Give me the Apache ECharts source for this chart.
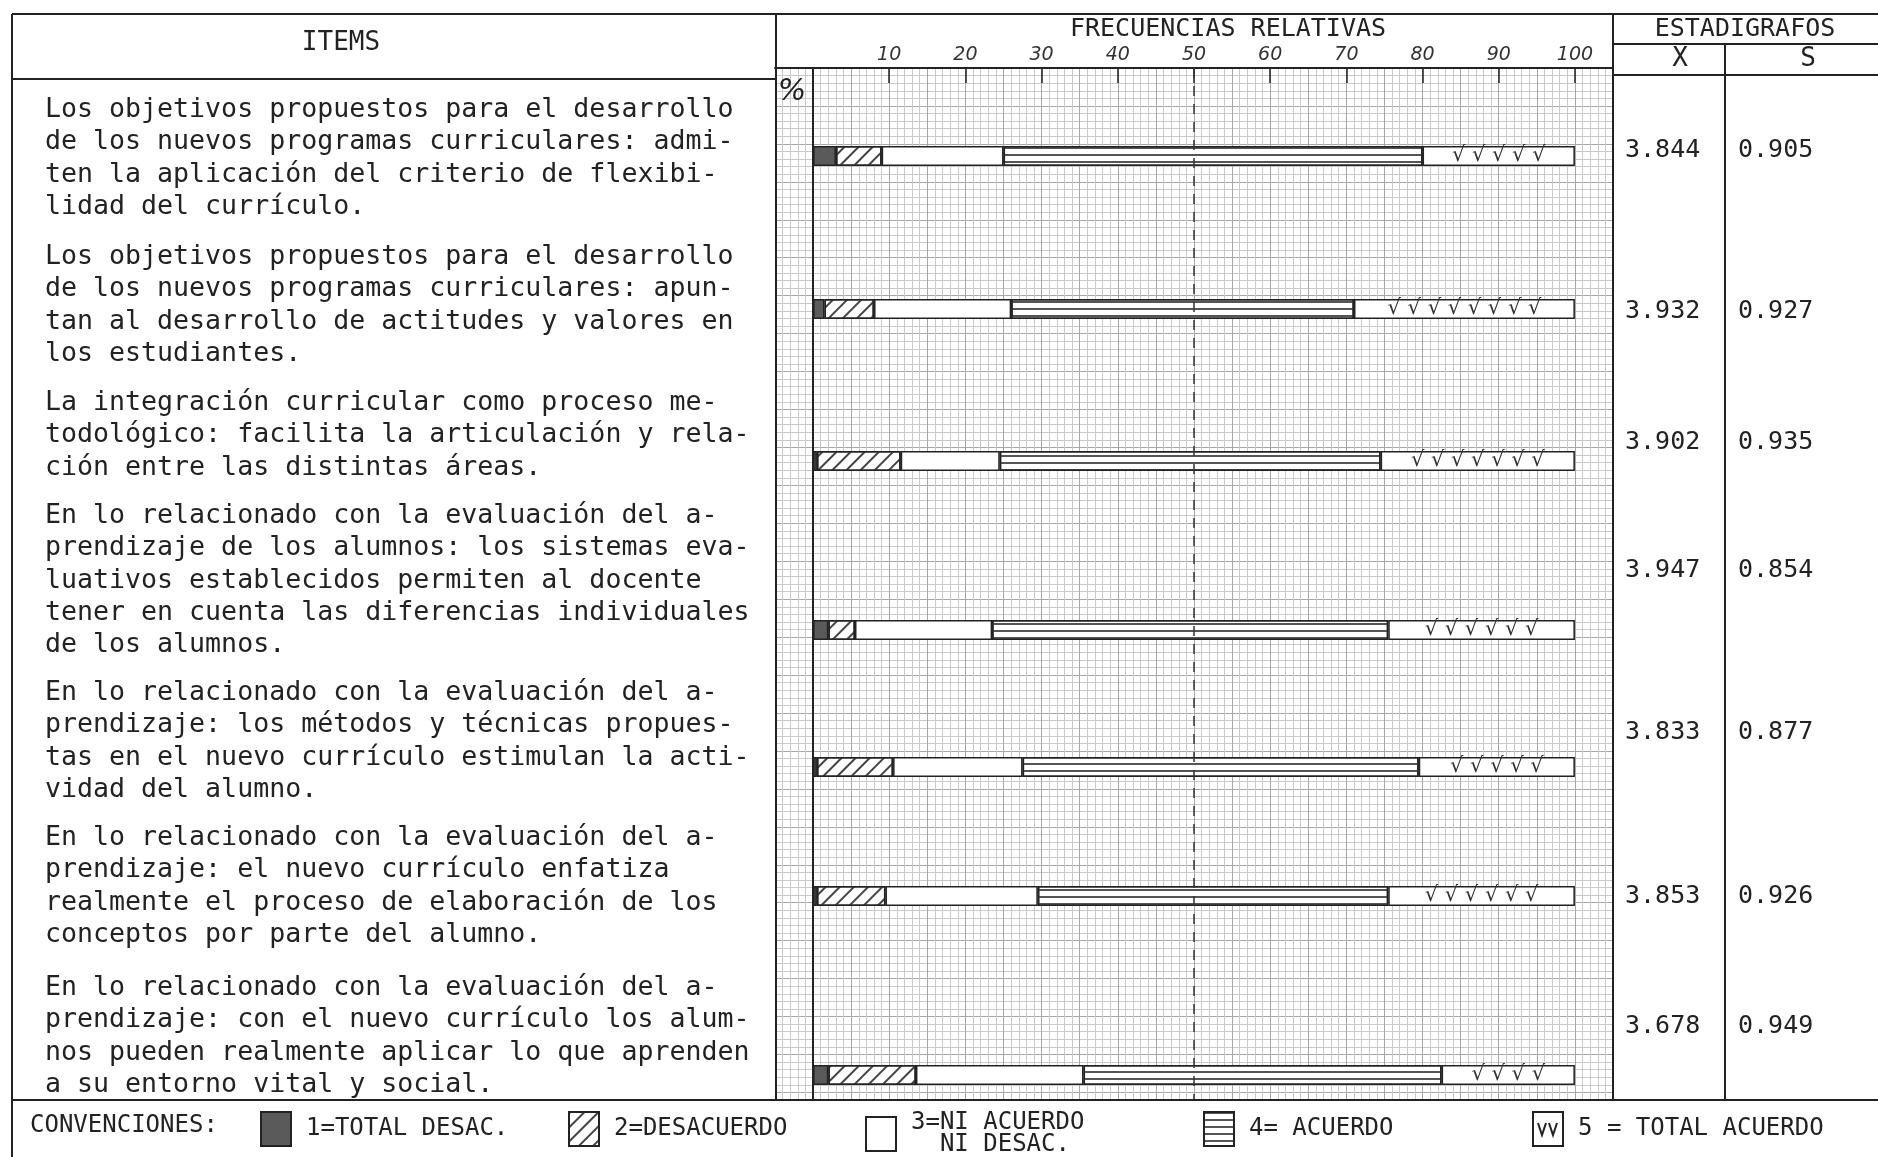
<!DOCTYPE html>
<html><head><meta charset="utf-8">
<script src="https://cdn.jsdelivr.net/npm/echarts@6/dist/echarts.min.js"></script>
<style>html,body{margin:0;padding:0;background:#fff}#c{width:1878px;height:1157px}</style>
</head><body><div id="c"></div>
<script>
// ---------- DATA ----------
const items = [
  "Los objetivos propuestos para el desarrollo\nde los nuevos programas curriculares: admi-\nten la aplicación del criterio de flexibi-\nlidad del currículo.",
  "Los objetivos propuestos para el desarrollo\nde los nuevos programas curriculares: apun-\ntan al desarrollo de actitudes y valores en\nlos estudiantes.",
  "La integración curricular como proceso me-\ntodológico: facilita la articulación y rela-\nción entre las distintas áreas.",
  "En lo relacionado con la evaluación del a-\nprendizaje de los alumnos: los sistemas eva-\nluativos establecidos permiten al docente\ntener en cuenta las diferencias individuales\nde los alumnos.",
  "En lo relacionado con la evaluación del a-\nprendizaje: los métodos y técnicas propues-\ntas en el nuevo currículo estimulan la acti-\nvidad del alumno.",
  "En lo relacionado con la evaluación del a-\nprendizaje: el nuevo currículo enfatiza\nrealmente el proceso de elaboración de los\nconceptos por parte del alumno.",
  "En lo relacionado con la evaluación del a-\nprendizaje: con el nuevo currículo los alum-\nnos pueden realmente aplicar lo que aprenden\na su entorno vital y social."
];
const levelNames = ["1=TOTAL DESAC.", "2=DESACUERDO", "3=NI ACUERDO\n  NI DESAC.", "4= ACUERDO", "5 = TOTAL ACUERDO"];
const totalDesac   = [3, 1.5, 0.5, 2, 0.5, 0.5, 2];
const desacuerdo   = [6, 6.5, 11, 3.5, 10, 9, 11.5];
const niAcuerdo    = [16, 18, 13, 18, 17, 20, 22];
const acuerdo      = [55, 45, 50, 52, 52, 46, 47];
const totalAcuerdo = [20, 29, 25.5, 24.5, 20.5, 24.5, 17.5];
const meanX = [3.844, 3.932, 3.902, 3.947, 3.833, 3.853, 3.678];
const sdS   = [0.905, 0.927, 0.935, 0.854, 0.877, 0.926, 0.949];
const tickLabels = ["10","20","30","40","50","60","70","80","90","100"];

// ---------- LAYOUT ----------
const barCenterY = [156, 309, 461, 630, 767, 896, 1075];
const textTopY   = [94, 241, 387, 500, 677, 822, 972];
const statY      = [150, 311, 442, 570, 732, 896, 1026];
const legendLeft = [255, 563, 860, 1198, 1527];
const MONO = "DejaVu Sans Mono";
const INK = "#222";

const levels = [totalDesac, desacuerdo, niAcuerdo, acuerdo, totalAcuerdo];
const border = {borderColor: INK, borderWidth: 1.5};
const levelStyles = [
  Object.assign({color: "#5a5a5a"}, border),
  Object.assign({color: "#fff", decal: {symbol: "rect", symbolSize: 1, color: "#444", dashArrayX: [1, 0], dashArrayY: [2, 8], rotation: -Math.PI / 4}}, border),
  Object.assign({color: "#fff"}, border),
  Object.assign({color: "#fff", decal: {symbol: "rect", symbolSize: 1, color: "#555", dashArrayX: [1, 0], dashArrayY: [1.5, 5], rotation: 0}}, border),
  Object.assign({color: "#fff"}, border)
];

const grids = [
  {left: 775, right: 265, top: 68, bottom: 57},
  {left: 813, right: 303, top: 68, height: 1}
];
const xAxes = [
  {gridIndex: 0, type: "value", min: -5, max: 105, interval: 5, position: "top",
   axisLine: {show: true, onZero: false, lineStyle: {color: INK, width: 2}},
   axisTick: {show: false}, axisLabel: {show: false},
   minorTick: {show: false, splitNumber: 5},
   splitLine: {show: true, lineStyle: {color: "#a8a8a8", width: 1}},
   minorSplitLine: {show: true, lineStyle: {color: "#cacaca", width: 1}}},
  {gridIndex: 1, type: "value", min: 0, max: 100, interval: 10, position: "top",
   axisLine: {show: false},
   axisTick: {show: true, inside: true, length: 14, lineStyle: {color: INK, width: 1.5}},
   axisLabel: {show: true, margin: 3, fontFamily: "DejaVu Sans", fontStyle: "italic", fontSize: 19, color: "#333",
     formatter: v => (v >= 10 ? tickLabels[v / 10 - 1] : "")},
   splitLine: {show: false}}
];
const yAxes = [
  {gridIndex: 0, type: "value", min: 0, max: 136, interval: 5, inverse: true,
   axisLine: {show: true, onZero: true, lineStyle: {color: INK, width: 2}},
   axisTick: {show: false}, axisLabel: {show: false},
   minorTick: {show: false, splitNumber: 5},
   splitLine: {show: true, lineStyle: {color: "#a8a8a8", width: 1}},
   minorSplitLine: {show: true, lineStyle: {color: "#cacaca", width: 1}}},
  {gridIndex: 1, type: "value", show: false}
];
const series = [
  {type: "line", xAxisIndex: 0, yAxisIndex: 0, data: [], silent: true,
   markLine: {silent: true, symbol: ["none", "none"], label: {show: false},
     lineStyle: {color: "#333", type: [10, 8], width: 1.5}, data: [{xAxis: 50}]}},
  {type: "line", xAxisIndex: 1, yAxisIndex: 1, data: []}
];
items.forEach((txt, i) => {
  grids.push({left: 775, right: 265, top: barCenterY[i] - 10, height: 20});
  xAxes.push({gridIndex: i + 2, type: "value", min: -5, max: 105, show: false});
  yAxes.push({gridIndex: i + 2, type: "category", data: [String(i + 1)], show: false});
  levels.forEach((arr, k) => {
    const s = {type: "bar", name: levelNames[k], xAxisIndex: i + 2, yAxisIndex: i + 2,
      stack: "s" + i, barWidth: 20, data: [arr[i]], itemStyle: levelStyles[k], silent: true};
    if (k === 4) {
      s.label = {show: true, position: "inside", fontFamily: "DejaVu Sans", fontSize: 21, color: "#333",
        formatter: p => "√ ".repeat(Math.max(1, Math.floor(p.value * 0.28))).trim()};
    }
    series.push(s);
  });
});

const legends = levelNames.map((name, k) => ({
  left: legendLeft[k], top: 1106, itemWidth: 30, itemHeight: 34, selectedMode: false,
  data: [k === 4 ? {name: name, icon: "path://M0,0H30V34H0Z M5,11L9,23L13,11 M16,11L20,23L24,11"} : {name: name, icon: "rect"}],
  textStyle: {fontFamily: MONO, fontSize: 24, color: INK, lineHeight: 22, padding: [0, 0, 0, 10]}
}));

const L = (x1, y1, x2, y2) => ({type: "line", silent: true, shape: {x1, y1, x2, y2}, style: {stroke: INK, lineWidth: 2}, z: 100});
const T = (x, y, text, opt) => ({type: "text", silent: true, x, y, z: 100,
  style: Object.assign({text, fill: INK, font: "26px '" + MONO + "'", textAlign: "center", textVerticalAlign: "middle"}, opt || {})});

const graphic = [
  L(12, 14, 1878, 14), L(12, 14, 12, 1157), L(12, 79, 776, 79),
  L(776, 14, 776, 1100), L(1613, 14, 1613, 1100),
  L(1613, 44, 1878, 44), L(1613, 75, 1878, 75), L(1725, 44, 1725, 1100),
  L(12, 1100, 1878, 1100),
  T(341, 43, "ITEMS"),
  T(1228, 29, "FRECUENCIAS RELATIVAS", {font: "25px '" + MONO + "'"}),
  T(1745, 29, "ESTADIGRAFOS", {font: "25px '" + MONO + "'"}),
  T(1680, 59, "X"), T(1808, 59, "S"),
  T(792, 92, "%", {font: "italic 30px 'DejaVu Sans'"}),
  T(30, 1126, "CONVENCIONES:", {textAlign: "left", font: "24px '" + MONO + "'"})
];
items.forEach((txt, i) => {
  graphic.push({type: "text", silent: true, x: 45, y: textTopY[i], z: 100,
    style: {text: txt, fill: INK, font: "26.6px '" + MONO + "'", lineHeight: 32.3, textAlign: "left", textVerticalAlign: "top"}});
  graphic.push(T(1625, statY[i], meanX[i].toFixed(3), {textAlign: "left", font: "25px '" + MONO + "'"}));
  graphic.push(T(1738, statY[i], sdS[i].toFixed(3), {textAlign: "left", font: "25px '" + MONO + "'"}));
});

const chart = echarts.init(document.getElementById("c"), null, {renderer: "canvas"});
chart.setOption({
  animation: false,
  backgroundColor: "#fff",
  textStyle: {fontFamily: MONO},
  grid: grids, xAxis: xAxes, yAxis: yAxes, series: series,
  legend: legends, graphic: graphic
});
</script></body></html>
